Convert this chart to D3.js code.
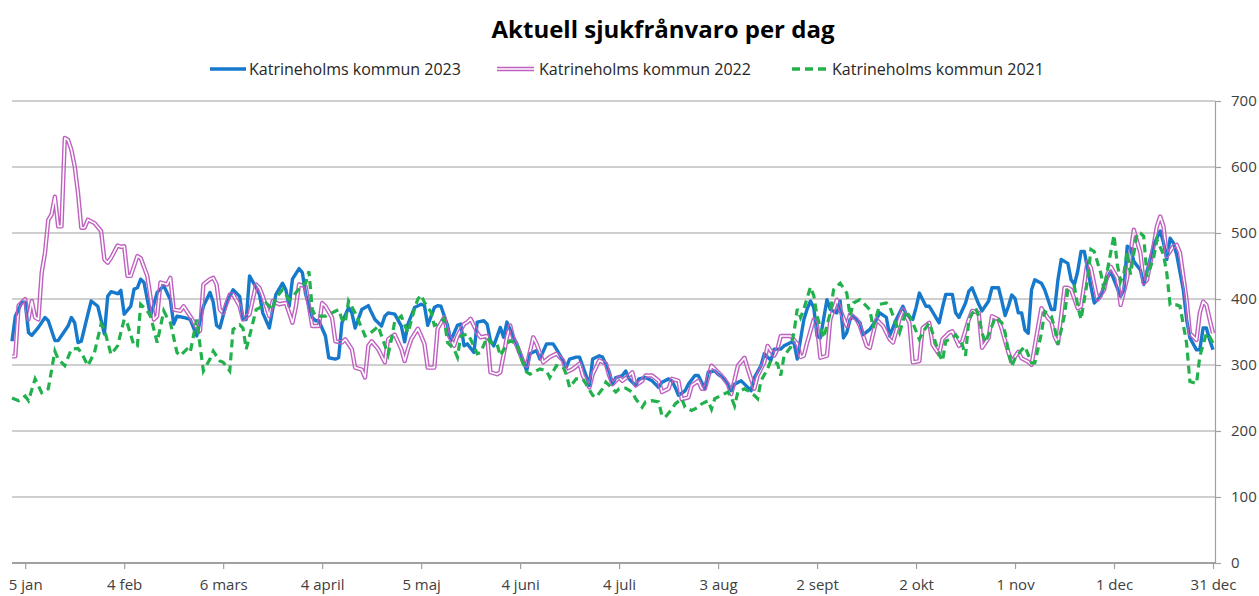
<!DOCTYPE html>
<html><head><meta charset="utf-8">
<script src="https://cdn.jsdelivr.net/npm/d3@7"></script>
<style>body{margin:0;background:#fff;} svg text{font-family:'Open Sans',sans-serif;}</style>
</head><body><svg id="chart" width="1259" height="596"></svg>
<script>
const title = "Aktuell sjukfrånvaro per dag";
const seriesNames = ["Katrineholms kommun 2023", "Katrineholms kommun 2022", "Katrineholms kommun 2021"];
const tickDays = [4, 34, 64, 94, 124, 154, 184, 214, 244, 274, 304, 334, 364];
const tickLabels = ["5 jan", "4 feb", "6 mars", "4 april", "5 maj", "4 juni", "4 juli", "3 aug", "2 sept", "2 okt", "1 nov", "1 dec", "31 dec"];
const yTicks = [0, 100, 200, 300, 400, 500, 600, 700];

// [day of year index, value]
const points2023 = [[0,336],[1,374],[3,395],[4,395],[5,349],[6,345],[8,357],[10,372],[11,367],[13,337],[14,337],[17,359],[18,372],[19,364],[20,334],[21,336],[23,377],[24,397],[26,389],[28,347],[29,404],[30,411],[32,408],[33,413],[34,377],[36,389],[37,415],[38,417],[39,430],[40,425],[42,374],[44,410],[45,415],[46,420],[48,399],[49,362],[50,374],[52,372],[54,369],[56,344],[58,389],[60,410],[61,395],[62,360],[63,356],[65,394],[67,414],[69,404],[70,369],[71,369],[72,435],[74,417],[75,407],[76,379],[78,356],[79,384],[80,407],[82,424],[83,414],[84,389],[85,430],[87,446],[88,440],[89,407],[91,372],[92,367],[93,367],[95,344],[96,311],[98,309],[99,311],[100,364],[102,387],[103,379],[104,356],[106,384],[108,390],[109,379],[110,369],[112,359],[113,374],[114,379],[116,377],[118,359],[119,335],[120,362],[122,387],[124,392],[125,390],[126,360],[128,387],[129,390],[130,389],[132,360],[133,337],[135,360],[136,362],[137,329],[138,332],[140,319],[141,365],[143,367],[144,362],[145,337],[146,329],[148,357],[149,342],[150,365],[152,342],[153,332],[154,319],[156,291],[157,317],[159,322],[160,309],[162,332],[164,332],[165,324],[167,307],[168,297],[169,309],[171,312],[172,312],[174,284],[175,269],[176,309],[178,314],[179,312],[181,290],[182,271],[183,281],[185,284],[186,291],[187,279],[189,269],[190,279],[192,281],[194,276],[196,266],[197,274],[199,279],[200,276],[201,266],[202,254],[204,261],[205,271],[207,284],[208,284],[210,264],[211,289],[213,291],[214,286],[216,279],[218,261],[219,271],[221,276],[222,271],[224,261],[225,281],[227,299],[228,317],[230,307],[231,324],[233,324],[234,329],[236,334],[237,334],[238,309],[240,369],[241,385],[242,397],[243,387],[244,344],[245,341],[247,399],[248,384],[250,379],[251,397],[252,341],[253,349],[254,369],[255,374],[257,364],[258,346],[260,354],[262,369],[263,379],[265,372],[266,344],[268,369],[270,389],[271,377],[273,369],[274,387],[275,409],[277,389],[278,389],[280,372],[281,364],[282,387],[283,407],[285,407],[286,379],[287,372],[289,394],[290,412],[291,417],[293,392],[294,382],[296,397],[297,417],[299,417],[300,397],[301,375],[302,389],[303,406],[304,401],[305,379],[306,379],[307,353],[308,348],[309,414],[310,429],[312,424],[313,414],[315,384],[316,384],[317,429],[318,460],[320,454],[321,429],[322,422],[323,442],[324,472],[325,472],[327,419],[328,394],[330,404],[331,422],[333,442],[334,429],[336,404],[337,414],[338,480],[339,477],[340,457],[342,444],[343,422],[345,462],[346,482],[348,503],[349,485],[350,460],[351,492],[352,485],[353,467],[355,414],[356,369],[357,341],[359,323],[360,323],[361,356],[362,356],[363,338],[364,323]];

const points2022 = [[0,313],[1,313],[2,390],[4,400],[5,369],[6,397],[7,372],[8,369],[9,440],[10,470],[11,520],[12,528],[13,555],[14,510],[15,510],[16,644],[17,641],[18,626],[19,601],[20,561],[21,508],[22,508],[23,520],[25,515],[27,503],[28,460],[29,455],[30,462],[32,481],[33,479],[34,480],[35,435],[36,435],[38,465],[39,462],[41,435],[43,369],[44,374],[45,425],[47,422],[48,432],[49,384],[51,382],[52,389],[54,374],[56,357],[57,352],[58,422],[60,430],[61,432],[62,422],[63,384],[64,379],[66,407],[67,407],[69,389],[70,369],[72,377],[74,422],[75,417],[76,404],[78,374],[79,397],[81,392],[83,394],[85,364],[86,387],[87,422],[89,419],[90,389],[91,359],[93,359],[94,394],[95,389],[97,372],[98,336],[100,334],[101,339],[103,324],[104,296],[106,293],[107,281],[108,329],[109,336],[111,324],[113,304],[114,339],[116,346],[118,324],[119,306],[120,324],[121,339],[123,355],[124,344],[125,332],[126,296],[128,296],[129,355],[131,372],[132,349],[134,329],[135,344],[137,362],[138,365],[139,370],[141,349],[142,342],[144,344],[145,289],[147,286],[148,289],[150,342],[151,360],[152,339],[153,329],[155,304],[156,299],[158,342],[159,332],[161,304],[163,312],[165,317],[167,307],[168,289],[170,294],[172,302],[173,284],[175,266],[176,286],[178,307],[180,302],[181,284],[182,271],[184,281],[185,276],[187,284],[188,289],[189,269],[191,276],[192,284],[194,284],[196,276],[197,259],[199,264],[200,279],[202,276],[203,248],[205,251],[206,269],[208,276],[209,264],[210,264],[212,299],[214,289],[215,284],[217,271],[218,256],[220,299],[222,311],[223,294],[225,264],[226,284],[228,304],[229,329],[231,314],[232,324],[233,344],[235,344],[236,344],[238,332],[239,312],[240,314],[241,334],[243,369],[244,359],[245,311],[247,314],[248,369],[250,399],[251,384],[253,359],[254,377],[256,369],[257,359],[259,329],[260,326],[262,369],[263,364],[264,359],[266,339],[267,334],[269,369],[270,384],[272,364],[273,304],[275,306],[276,356],[278,364],[279,331],[281,316],[282,339],[284,349],[285,351],[287,329],[288,336],[290,369],[291,382],[293,379],[294,326],[296,341],[297,374],[299,369],[300,354],[302,319],[303,305],[305,320],[306,310],[308,305],[309,300],[311,358],[312,386],[314,371],[315,366],[316,343],[317,333],[319,417],[320,417],[321,414],[323,386],[324,389],[326,457],[327,447],[329,399],[331,414],[332,437],[333,449],[335,432],[336,391],[338,432],[339,470],[340,505],[341,487],[342,470],[343,424],[344,429],[346,480],[347,510],[348,525],[349,510],[350,465],[352,480],[353,482],[354,470],[356,399],[357,348],[358,343],[359,338],[360,379],[361,396],[362,391],[363,369],[364,348]];

const points2021 = [[0,250],[2,246],[4,253],[5,246],[7,279],[9,258],[11,264],[13,321],[14,309],[16,299],[18,324],[20,325],[21,319],[23,299],[25,319],[27,362],[28,354],[30,316],[32,329],[34,369],[35,362],[37,329],[38,329],[39,392],[41,382],[42,374],[44,334],[46,382],[47,372],[48,364],[50,319],[51,314],[53,324],[54,319],[56,369],[57,329],[58,291],[60,309],[61,321],[63,306],[64,304],[66,291],[67,354],[69,361],[70,356],[71,324],[73,364],[74,384],[76,389],[77,394],[79,384],[80,402],[82,414],[84,399],[86,409],[88,422],[89,424],[90,442],[91,384],[92,374],[95,374],[97,379],[99,384],[100,369],[101,364],[102,397],[104,379],[106,356],[107,344],[108,346],[110,354],[111,359],[112,344],[114,316],[115,339],[116,366],[118,374],[119,361],[120,349],[122,385],[123,400],[124,406],[125,395],[127,380],[128,360],[129,362],[131,370],[132,334],[134,324],[135,312],[136,344],[138,347],[139,339],[141,317],[142,319],[144,342],[145,334],[147,332],[148,314],[150,332],[151,337],[153,332],[154,314],[156,289],[157,286],[160,294],[162,291],[163,281],[165,299],[167,297],[168,286],[169,266],[171,279],[173,279],[174,271],[176,254],[177,251],[179,264],[180,274],[181,269],[183,259],[184,264],[186,265],[188,259],[189,249],[191,236],[192,244],[194,246],[196,244],[197,223],[198,221],[200,233],[201,241],[203,249],[204,236],[206,231],[208,236],[209,241],[211,246],[212,233],[213,249],[215,254],[217,259],[218,251],[219,238],[220,259],[222,264],[223,261],[225,254],[226,249],[227,276],[229,294],[230,307],[232,302],[233,284],[234,314],[236,327],[237,349],[238,385],[239,372],[240,385],[242,418],[243,405],[244,374],[246,341],[248,379],[249,414],[251,424],[253,409],[254,374],[255,394],[257,399],[258,394],[260,384],[261,356],[263,392],[265,394],[266,389],[268,361],[269,349],[271,382],[272,374],[273,364],[275,339],[276,349],[278,364],[279,349],[281,316],[282,306],[283,336],[285,341],[286,346],[288,331],[289,314],[290,369],[292,387],[293,374],[294,349],[295,334],[297,359],[298,372],[300,364],[301,349],[302,319],[303,298],[304,310],[306,323],[307,328],[309,303],[310,303],[312,348],[313,381],[315,374],[316,356],[317,331],[319,376],[320,414],[322,419],[323,389],[324,369],[326,429],[327,475],[328,472],[330,439],[331,414],[332,444],[334,497],[335,452],[336,427],[337,439],[338,472],[339,437],[341,500],[342,500],[343,495],[344,434],[346,462],[347,490],[349,467],[350,439],[351,391],[353,391],[354,389],[356,333],[357,275],[359,272],[360,313],[362,348],[363,343],[364,333]];

const colors = ["#1679cc", "#c060c0", "#22b14c"];

const svg = d3.select("#chart");
const x = d3.scaleLinear().domain([0, 364]).range([12, 1213]);
const y = d3.scaleLinear().domain([0, 700]).range([563, 101]);
const plotRight = 1215;

// title
svg.append("text").attr("x", 663).attr("y", 38).attr("text-anchor", "middle")
  .attr("font-size", 24).attr("font-weight", 700).attr("fill", "#000").text(title);

// gridlines
svg.append("g").selectAll("line").data(yTicks.filter(d => d > 0)).join("line")
  .attr("x1", 12).attr("x2", plotRight).attr("y1", d => y(d)).attr("y2", d => y(d))
  .attr("stroke", "#a0a0a0").attr("stroke-width", 1.2);

// right axis
const yAxis = svg.append("g").attr("transform", `translate(${plotRight},0)`)
  .call(d3.axisRight(y).tickValues(yTicks).tickFormat(d3.format("d")).tickSizeInner(6).tickSizeOuter(0).tickPadding(10));
yAxis.select(".domain").attr("stroke", "#a0a0a0").attr("stroke-width", 1.2);
yAxis.selectAll(".tick line").attr("stroke", "#a0a0a0").attr("stroke-width", 1.2);
yAxis.selectAll(".tick text").attr("font-size", 15).attr("fill", "#404040").attr("font-family", "'Open Sans',sans-serif");

// bottom axis
const xAxis = svg.append("g").attr("transform", `translate(0,${y(0)})`)
  .call(d3.axisBottom(x).tickValues(tickDays).tickFormat((d, i) => tickLabels[i]).tickSizeInner(6).tickSizeOuter(0).tickPadding(10));
xAxis.select(".domain").attr("d", `M12,0H${plotRight}`).attr("stroke", "#a0a0a0").attr("stroke-width", 2);
xAxis.selectAll(".tick line").attr("stroke", "#a0a0a0").attr("stroke-width", 1.2);
xAxis.selectAll(".tick text").attr("font-size", 15).attr("fill", "#404040").attr("font-family", "'Open Sans',sans-serif");

const line = d3.line().x(d => x(d[0])).y(d => y(d[1]));

// mask for the double line (transparent centre)
const defs = svg.append("defs");
const mask = defs.append("mask").attr("id", "dbl").attr("maskUnits", "userSpaceOnUse")
  .attr("x", 0).attr("y", 0).attr("width", 1259).attr("height", 596);
mask.append("rect").attr("width", 1259).attr("height", 596).attr("fill", "#fff");
mask.append("path").attr("d", line(points2022)).attr("fill", "none").attr("stroke", "#000").attr("stroke-width", 1.6).attr("stroke-linejoin", "round");
const maskL = defs.append("mask").attr("id", "dblL").attr("maskUnits", "userSpaceOnUse")
  .attr("x", 0).attr("y", 0).attr("width", 1259).attr("height", 596);
maskL.append("rect").attr("width", 1259).attr("height", 596).attr("fill", "#fff");

// series
svg.append("path").attr("d", line(points2023)).attr("fill", "none")
  .attr("stroke", colors[0]).attr("stroke-width", 3.4).attr("stroke-linejoin", "round");
svg.append("path").attr("d", line(points2022)).attr("fill", "none")
  .attr("stroke", colors[1]).attr("stroke-width", 4.4).attr("stroke-linejoin", "round").attr("mask", "url(#dbl)");
svg.append("path").attr("d", line(points2021)).attr("fill", "none")
  .attr("stroke", colors[2]).attr("stroke-width", 3.2).attr("stroke-dasharray", "8,5");

// legend
const legendX = [210, 497, 792];
const legendY = 69;
const lg = svg.append("g");
seriesNames.forEach((name, i) => {
  const g = lg.append("g").attr("transform", `translate(${legendX[i]},${legendY})`);
  if (i === 1) {
    maskL.append("line").attr("x1", legendX[i]).attr("x2", legendX[i] + 37).attr("y1", legendY).attr("y2", legendY)
      .attr("stroke", "#000").attr("stroke-width", 1.6);
    svg.append("line").attr("x1", legendX[i]).attr("x2", legendX[i] + 37).attr("y1", legendY).attr("y2", legendY)
      .attr("stroke", colors[i]).attr("stroke-width", 4.4).attr("mask", "url(#dblL)");
  } else {
    g.append("line").attr("x1", 0).attr("x2", 36).attr("y1", 0).attr("y2", 0)
      .attr("stroke", colors[i]).attr("stroke-width", 3.4)
      .attr("stroke-dasharray", i === 2 ? "8,5" : null);
  }
  g.append("text").attr("x", i === 1 ? 42 : (i === 2 ? 40 : 39)).attr("y", 5.5).attr("font-size", 16).attr("fill", "#262626").text(name);
});
</script></body></html>
